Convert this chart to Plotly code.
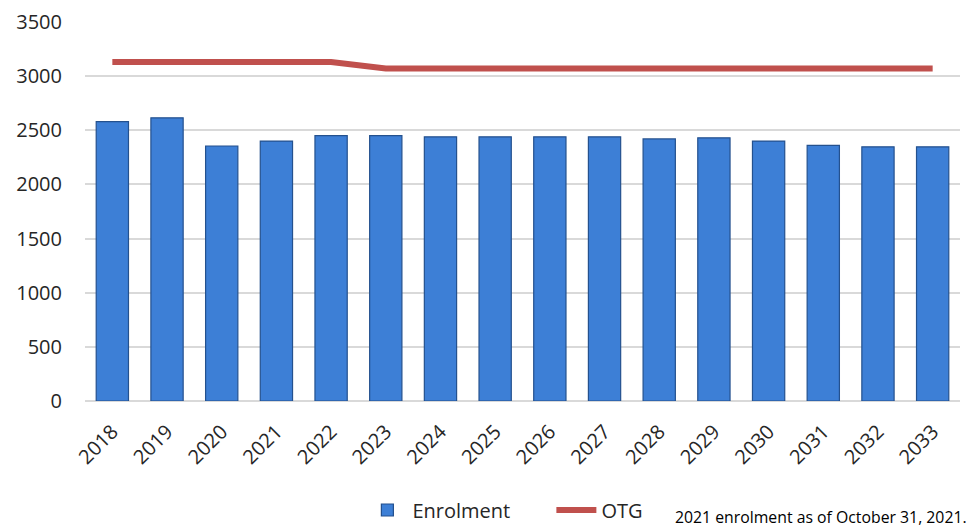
"""Enrolment vs OTG — bar + line chart."""

import plotly.graph_objects as go

FONT = {"family": "Open Sans, Noto Sans, sans-serif", "size": 20, "color": "#333333"}

years = [str(y) for y in range(2018, 2034)]
enrolment = [2580, 2615, 2355, 2400, 2450, 2450, 2440, 2440,
             2440, 2440, 2420, 2430, 2400, 2360, 2347, 2347]
otg = [3130, 3130, 3130, 3130, 3130, 3070, 3070, 3070,
       3070, 3070, 3070, 3070, 3070, 3070, 3070, 3070]
y_ticks = [0, 500, 1000, 1500, 2000, 2500, 3000, 3500]
footnote = "2021 enrolment as of October 31, 2021."

fig = go.Figure()
fig.add_trace(go.Bar(
    x=years, y=enrolment, name="Enrolment",
    marker=dict(color="#3D7FD6", line=dict(color="#24518E", width=1.2)),
))
fig.add_trace(go.Scatter(
    x=years, y=otg, mode="lines", name="OTG",
    line=dict(color="#C0504D", width=6),
))

# page body adds an 8px offset, margins compensate for it
fig.update_layout(
    width=975, height=532,
    margin=dict(l=77, r=23, t=14, b=139, autoexpand=False),
    font=FONT,
    plot_bgcolor="white", paper_bgcolor="white",
    bargap=0.41,
    showlegend=True,
    legend=dict(orientation="h", x=0.317, xanchor="left", y=-0.2876, yanchor="middle",
                font=dict(size=20, color="#262626"), itemwidth=40,
                entrywidth=134, tracegroupgap=0),
    xaxis=dict(tickangle=-45, tickfont=dict(size=20, color="#262626"),
               showgrid=False, showline=False, ticks="", automargin=False,
               ticklabelstandoff=14),
    yaxis=dict(range=[0, 3500], tickvals=y_ticks, tickfont=dict(size=20, color="#262626"),
               showgrid=True, gridcolor="#D9D9D9", gridwidth=1.5,
               zeroline=True, zerolinecolor="#D9D9D9", zerolinewidth=1.5,
               showline=False, ticks="", ticklabelstandoff=22, automargin=False),
)
fig.add_annotation(
    text=footnote, xref="paper", yref="paper", x=0.672, y=-0.306,
    xanchor="left", yanchor="middle", showarrow=False,
    font=dict(size=15.8, color="#000000"),
)

fig.write_html("out.html")
